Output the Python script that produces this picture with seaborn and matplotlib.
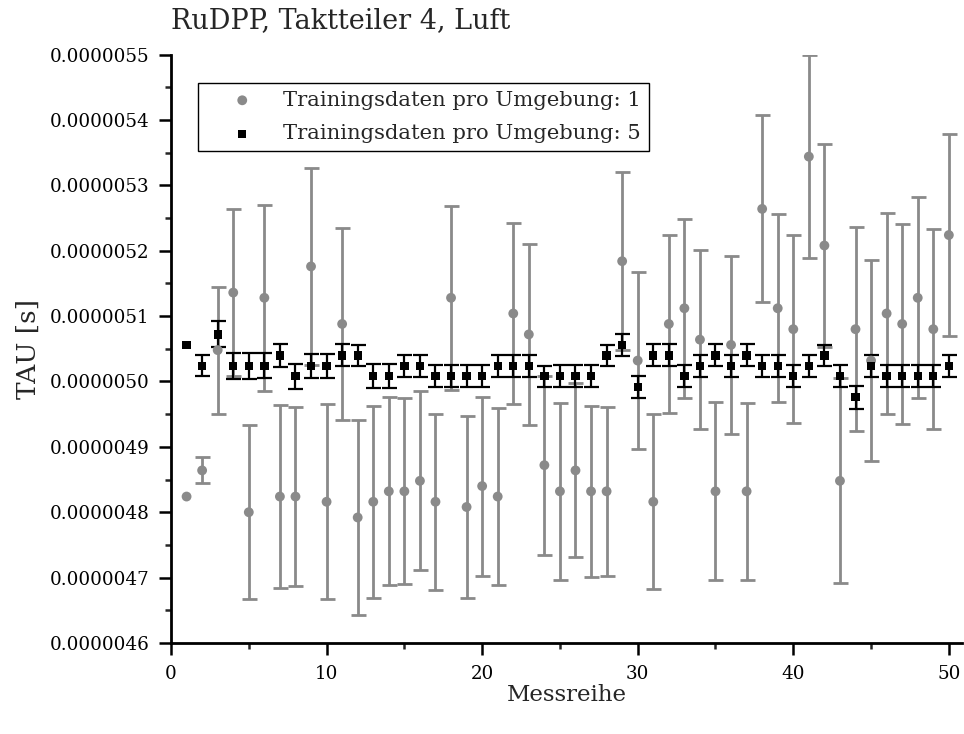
import numpy as np
import pandas as pd
import matplotlib
matplotlib.use("Agg")
import matplotlib.pyplot as plt
from matplotlib.ticker import MultipleLocator, FormatStrFormatter
import seaborn as sns

# ---- data (values in microseconds, converted to seconds below) ----
messreihe = list(range(1, 51))

tau_1_us = [4.824, 4.864, 5.048, 5.136, 4.800, 5.128, 4.824, 4.824, 5.176, 4.816,
            5.088, 4.792, 4.816, 4.832, 4.832, 4.848, 4.816, 5.128, 4.808, 4.840,
            4.824, 5.104, 5.072, 4.872, 4.832, 4.864, 4.832, 4.832, 5.184, 5.032,
            4.816, 5.088, 5.112, 5.064, 4.832, 5.056, 4.832, 5.264, 5.112, 5.080,
            5.344, 5.208, 4.848, 5.080, 5.032, 5.104, 5.088, 5.128, 5.080, 5.224]
err_1_us = [0.000, 0.020, 0.097, 0.128, 0.133, 0.142, 0.140, 0.137, 0.151, 0.149,
            0.147, 0.149, 0.147, 0.144, 0.142, 0.137, 0.135, 0.141, 0.139, 0.137,
            0.135, 0.138, 0.139, 0.137, 0.135, 0.133, 0.131, 0.129, 0.136, 0.135,
            0.134, 0.136, 0.137, 0.137, 0.136, 0.136, 0.135, 0.143, 0.144, 0.144,
            0.155, 0.156, 0.157, 0.156, 0.154, 0.154, 0.153, 0.154, 0.153, 0.155]

tau_5_us = [5.056, 5.024, 5.072, 5.024, 5.024, 5.024, 5.040, 5.008, 5.024, 5.024,
            5.040, 5.040, 5.008, 5.008, 5.024, 5.024, 5.008, 5.008, 5.008, 5.008,
            5.024, 5.024, 5.024, 5.008, 5.008, 5.008, 5.008, 5.040, 5.056, 4.992,
            5.040, 5.040, 5.008, 5.024, 5.040, 5.024, 5.040, 5.024, 5.024, 5.008,
            5.024, 5.040, 5.008, 4.976, 5.024, 5.008, 5.008, 5.008, 5.008, 5.024]
err_5_us = [0.000, 0.016, 0.020, 0.020, 0.020, 0.019, 0.018, 0.019, 0.018, 0.018,
            0.017, 0.016, 0.018, 0.018, 0.017, 0.017, 0.017, 0.017, 0.017, 0.017,
            0.017, 0.017, 0.017, 0.016, 0.017, 0.017, 0.017, 0.016, 0.017, 0.017,
            0.017, 0.017, 0.017, 0.017, 0.017, 0.017, 0.017, 0.017, 0.017, 0.017,
            0.017, 0.016, 0.017, 0.0175, 0.017, 0.017, 0.017, 0.017, 0.017, 0.017]

labels = ["Trainingsdaten pro Umgebung: 1", "Trainingsdaten pro Umgebung: 5"]
y_ticks_labels_fmt = "%.7f"

US = 1e-6
def frame(tau, err):
    err = np.array(err, dtype=float) * US
    err[err == 0] = np.nan  # no bar drawn where there is no spread
    return pd.DataFrame({"x": messreihe, "tau": np.array(tau) * US, "err": err})

df1 = frame(tau_1_us, err_1_us)
df5 = frame(tau_5_us, err_5_us)

# ---- style ----
sns.set_theme(style="ticks")
plt.rcParams["font.family"] = ["DejaVu Serif"]
plt.rcParams["axes.unicode_minus"] = False

GRAY = "#8a8a8a"
BLACK = "#000000"

fig = plt.figure(figsize=(9.64, 7.34), dpi=100)
ax = fig.add_axes([0.1774, 0.124, 0.8206, 0.8016])

# error bars
ax.errorbar(df1["x"], df1["tau"], yerr=df1["err"], fmt="none", ecolor=GRAY,
            elinewidth=2.0, capsize=5.4, capthick=2.0, zorder=2)
ax.errorbar(df5["x"], df5["tau"], yerr=df5["err"], fmt="none", ecolor=BLACK,
            elinewidth=1.6, capsize=5.4, capthick=1.6, zorder=3)

# markers via seaborn
sns.scatterplot(data=df1, x="x", y="tau", ax=ax, color=GRAY, marker="o", s=50,
                edgecolor="none", label=labels[0], zorder=4)
sns.scatterplot(data=df5, x="x", y="tau", ax=ax, color=BLACK, marker="s", s=36,
                edgecolor="none", label=labels[1], zorder=5)

ax.set_xlim(0, 50.85)
ax.set_ylim(4.6e-6, 5.5e-6)

ax.xaxis.set_major_locator(MultipleLocator(10))
ax.xaxis.set_minor_locator(MultipleLocator(5))
ax.yaxis.set_major_locator(MultipleLocator(1e-7))
ax.yaxis.set_minor_locator(MultipleLocator(5e-8))
ax.yaxis.set_major_formatter(FormatStrFormatter(y_ticks_labels_fmt))

for s in ["top", "right"]:
    ax.spines[s].set_visible(False)
for s in ["left", "bottom"]:
    ax.spines[s].set_linewidth(2.0)
    ax.spines[s].set_color("black")

ax.tick_params(axis="both", which="major", direction="out", length=8.5, width=1.8,
               labelsize=13.2, pad=7, colors="black")
ax.tick_params(axis="both", which="minor", direction="out", length=4.5, width=1.8)

ax.set_xlabel("Messreihe", fontsize=16.5, labelpad=1)
ax.set_ylabel("TAU [s]", fontsize=19, labelpad=6)
ax.set_title("RuDPP, Taktteiler 4, Luft", fontsize=19.5, loc="left", pad=19)

leg = ax.legend(loc="upper left", bbox_to_anchor=(0.034, 0.951), borderaxespad=0,
                fontsize=15.2, frameon=True, fancybox=False, handletextpad=0.2,
                handlelength=3.5, borderpad=0.35, labelspacing=0.69, markerscale=1.0)
leg.get_frame().set_edgecolor("black")
leg.get_frame().set_linewidth(1.0)
leg.get_frame().set_alpha(1)

fig.savefig("out.png", dpi=100)
